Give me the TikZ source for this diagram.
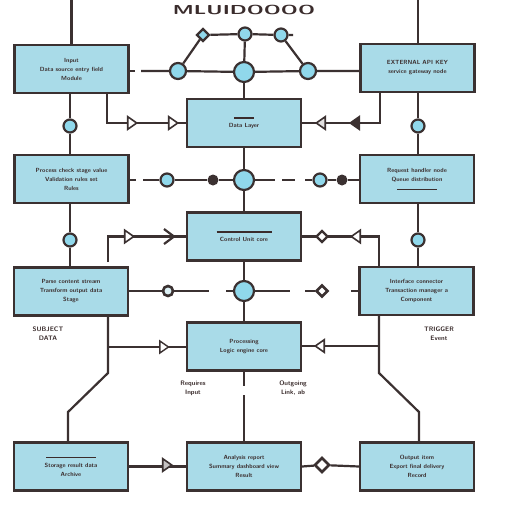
\documentclass[tikz,border=0pt]{standalone}
\usetikzlibrary{shapes.geometric}
\definecolor{ln}{HTML}{3B3131}
\definecolor{boxc}{HTML}{A9DBE8}
\definecolor{circc}{HTML}{90D8EB}
\definecolor{txt}{HTML}{3A2C2C}
\tikzset{
  base/.style={line width=2.2pt, draw=ln},
  box/.style={base, fill=boxc, rectangle, minimum width=114pt, minimum height=48pt, inner sep=1pt,
    align=center, text=txt, font=\sffamily\bfseries\fontsize{6}{9}\selectfont},
  circs/.style={base, circle, fill=circc, inner sep=0pt, minimum size=13pt},
  circb/.style={base, circle, fill=circc, inner sep=0pt, minimum size=20pt},
  blackdot/.style={circle, fill=ln, inner sep=0pt, minimum size=11pt},
  ring/.style={base, circle, fill=boxc!40, line width=2.6pt, inner sep=0pt, minimum size=10pt},
  dia/.style={base, diamond, fill=white, inner sep=0pt, minimum size=13pt},
  trir/.style={draw=ln, line width=1.6pt, isosceles triangle, isosceles triangle apex angle=70, fill=white,
    inner sep=0pt, minimum height=9pt, minimum width=12pt, shape border rotate=0},
  tril/.style={trir, shape border rotate=180},
  trifl/.style={tril, fill=ln},
  lab/.style={text=txt, align=center, font=\sffamily\bfseries\fontsize{6.5}{9}\selectfont},
  conn/.style={base}
}
\begin{document}
\begin{tikzpicture}[x=1pt,y=-1pt]
\fill[white] (0,0) rectangle (512,512);
\useasboundingbox (0,0) rectangle (512,512);

% title
\node[text=txt, font=\sffamily\bfseries\fontsize{13}{14}\selectfont, inner sep=0pt] (title) at (244,9.5) {\scalebox{1.65}[1]{MLUIDOOOO}};

% boxes
\node[box] (L1) at (71.5,69) {Input\\Data source entry field\\Module};
\node[box] (L2) at (71.5,179) {Process check stage value\\Validation rules set\\Rules};
\node[box] (L3) at (71,291.5) {Parse content stream\\Transform output data\\Stage};
\node[box] (L4) at (71,466.5) {\rule{50pt}{1.5pt}\\Storage result data\\Archive};
\node[box] (R1) at (417.5,68) {EXTERNAL API KEY\\service gateway node};
\node[box] (R2) at (417,179) {Request handler node\\Queue distribution\\\rule{40pt}{1.5pt}};
\node[box] (R3) at (416.5,291) {Interface connector\\Transaction manager a\\Component};
\node[box] (R4) at (417,466.5) {Output item\\Export final delivery\\Record};
\node[box] (C1) at (244,123) {\rule{20pt}{1.5pt}\\Data Layer};
\node[box] (C2) at (244,236.5) {\rule{55pt}{1.5pt}\\Control Unit core};
\node[box] (C3) at (244,346.5) {Processing\\Logic engine core};
\node[box] (C4) at (244,466.5) {Analysis report\\Summary dashboard view\\Result};

% top network
\node[dia, fill=circc] (dA) at (203,35) {};
\node[circs] (cA) at (245,34) {};
\node[circs] (cB) at (281,35) {};
\coordinate (cBe) at (293,35);
\node[circs, minimum size=16pt] (cL) at (178,71) {};
\node[circb] (cM) at (244,72) {};
\node[circs, minimum size=16pt] (cR) at (308,71) {};
\coordinate (l1a) at (135,71);
\coordinate (l1b) at (141,71);
\draw[conn] (dA) -- (cA) -- (cB) -- (cBe);
\draw[conn] (dA) -- (cL);
\draw[conn] (cB) -- (cR);
\draw[conn] (cA) -- (cM);
\draw[conn] (cM) -- (C1);
\draw[conn] (L1.east |- l1a) -- (l1a);
\draw[conn] (l1b) -- (cL) -- (cM) -- (cR) -- (R1.west |- cR);

% top verticals
\coordinate (tl) at (71.5,0);
\coordinate (tr) at (418,0);
\draw[conn] (tl) -- (L1.north);
\draw[conn] (tr) -- (R1.north -| tr);

% column verticals
\node[circs] (vl1) at (70,126) {};
\node[circs] (vl2) at (70,240) {};
\node[circs] (vr1) at (418,126) {};
\node[circs] (vr2) at (418,240) {};
\draw[conn] (L1.south -| vl1) -- (vl1) -- (L2.north -| vl1);
\draw[conn] (L2.south -| vl2) -- (vl2) -- (L3.north -| vl2);
\draw[conn] (R1.south -| vr1) -- (vr1) -- (R2.north -| vr1);
\draw[conn] (R2.south -| vr2) -- (vr2) -- (R3.north -| vr2);

% row 1 arrows
\coordinate (a1) at (107,92);
\coordinate (a2) at (380,92);
\draw[conn] (a1) |- (C1.west);
\draw[conn] (a2) |- (C1.east);
\node[trir] (t1) at (131,123) {};
\node[trir] (t2) at (172,123) {};
\node[trifl] (t3) at (356,123) {};
\node[tril, fill=ln!15] (t4) at (322,123) {};

% row 2
\node[circs] (s1) at (167,180) {};
\node[blackdot] (d1) at (213,180) {};
\node[circb] (cM2) at (244,180) {};
\node[circs] (s2) at (320,180) {};
\node[blackdot] (d2) at (342,180) {};
\coordinate (r2a) at (136,180);
\coordinate (r2b) at (143,180);
\coordinate (r2c) at (275,180);
\coordinate (r2d) at (282,180);
\coordinate (r2e) at (295,180);
\coordinate (r2f) at (305,180);
\draw[conn] (L2.east |- r2a) -- (r2a);
\draw[conn] (r2b) -- (s1) -- (d1) -- (cM2) -- (r2c);
\draw[conn] (r2d) -- (r2e);
\draw[conn] (r2f) -- (s2) -- (d2) -- (R2.west |- d2);
\draw[conn] (C1.south) -- (cM2) -- (C2.north);

% row 3
\coordinate (b1) at (108,262);
\coordinate (b2) at (379,266);
\draw[conn] (b1) |- (C2.west);
\draw[conn] (b2) |- (C2.east);
\node[trir] (t5) at (128,236.5) {};
\draw[ln, line width=2.2pt] (164,229) -- (174,236.5) -- (164,244);
\node[tril] (t6) at (357,236.5) {};
\node[dia, minimum size=12pt] (dm1) at (322,236.5) {};

% row 4
\node[ring] (s3) at (168,291) {};
\node[circb] (cM3) at (244,291) {};
\node[dia, minimum size=12pt, line width=2.6pt] (dm2) at (322,291) {};
\coordinate (r4a) at (209,291);
\coordinate (r4b) at (226,291);
\coordinate (r4c) at (290,291);
\coordinate (r4d) at (305,291);
\coordinate (r4e) at (351,291);
\draw[conn] (L3.east |- s3) -- (s3) -- (r4a);
\draw[conn] (r4b) -- (cM3) -- (r4c);
\draw[conn] (r4d) -- (dm2);
\draw[conn] (r4e) -- (R3.west |- r4e);
\draw[conn] (C2.south) -- (cM3) -- (C3.north);

% lower branches
\coordinate (p1) at (108,316);
\coordinate (p2) at (108,373);
\coordinate (p3) at (68,412);
\coordinate (p4) at (68,442);
\coordinate (pb) at (108,347);
\draw[conn] (p1) -- (p2) -- (p3) -- (p4);
\draw[conn] (pb) -- (C3.west |- pb);
\node[trir, minimum height=8pt, line width=1.4pt] (t7) at (163,347) {};
\coordinate (q1) at (379,316);
\coordinate (q2) at (379,373);
\coordinate (q3) at (419,412);
\coordinate (q4) at (419,442);
\coordinate (qb) at (379,346);
\draw[conn] (q1) -- (q2) -- (q3) -- (q4);
\draw[conn] (qb) -- (C3.east |- qb);
\node[tril] (t8) at (321,346) {};

% center bottom
\coordinate (g1) at (244,386);
\coordinate (g2) at (244,395);
\draw[conn] (C3.south) -- (g1);
\draw[conn] (g2) -- (C4.north);

% row 5
\draw[conn] (L4.east) -- (C4.west);
\node[trir, fill=ln!30] (t9) at (166,465) {};
\node[dia, minimum size=15pt, line width=2.6pt] (dm3) at (322,465) {};
\draw[conn] (C4.east) -- (dm3) -- (R4.west);

% labels
\node[lab] (lb1) at (48,334) {SUBJECT\\DATA};
\node[lab] (lb2) at (439,334) {TRIGGER\\Event};
\node[lab] (lb3) at (193,388) {Requires\\Input};
\node[lab] (lb4) at (293,388) {Outgoing\\Link, ab};
\end{tikzpicture}
\end{document}
